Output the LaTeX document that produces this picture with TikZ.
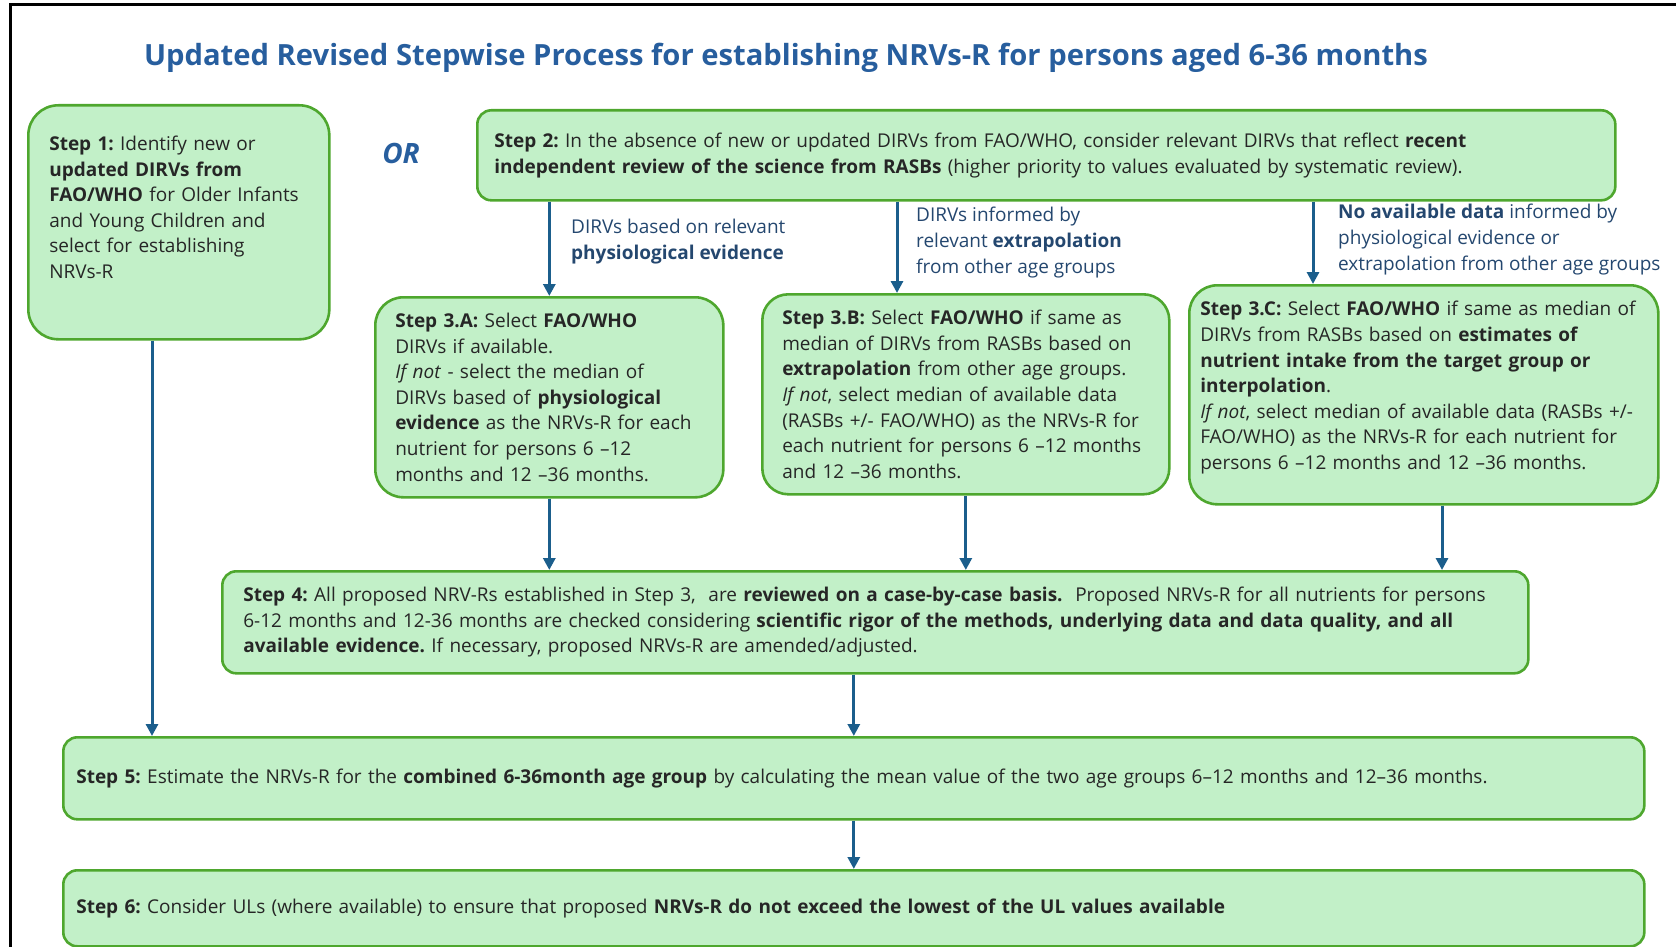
\documentclass[tikz,border=0pt]{standalone}
\usepackage{fontspec}
\setmainfont{Open Sans}
\usepackage{tikz}
\usetikzlibrary{positioning, calc, arrows.meta}
\definecolor{boxfill}{HTML}{C2F0C8}
\definecolor{boxline}{HTML}{4EA72E}
\definecolor{flowblue}{HTML}{1B5E8C}
\definecolor{titleblue}{HTML}{275E9E}
\definecolor{notetext}{HTML}{24476F}
\definecolor{bodytext}{HTML}{262626}
\tikzset{
    stepbox/.style={
        draw=boxline, fill=boxfill, line width=2.6pt, rounded corners=#1,
        anchor=north west, align=left, inner ysep=0pt,
        text=bodytext, font=\fontsize{19pt}{25.6pt}\selectfont,
    },
    stepbox/.default=14pt,
    flow/.style={draw=flowblue, line width=3pt, -{Triangle[length=12pt,width=12pt]}},
    note/.style={anchor=west, align=left, inner sep=0pt, text=notetext,
        font=\fontsize{19pt}{25.6pt}\selectfont},
}

\begin{document}
\frenchspacing
\begin{tikzpicture}[x=1pt, y=-1pt]
\useasboundingbox (0,0) rectangle (1676,947);
\draw[line width=3pt] (10,947) -- (10,5) -- (1676,5);

\node[text=titleblue, font=\bfseries\fontsize{29.2pt}{32pt}\selectfont, inner sep=0pt] (title) at (786,58)
    {Updated Revised Stepwise Process for establishing NRVs-R for persons aged 6-36 months};
\node[text=titleblue, font=\bfseries\itshape\fontsize{28pt}{30pt}\selectfont, inner sep=0pt] (or) at (401,153) {OR};

% steps 1 and 2
\node[stepbox=30pt, inner xsep=21pt, text width=259pt, minimum height=234pt] (s1) at (27,104)
    {\textbf{Step 1:} Identify new or\\ \textbf{updated DIRVs from}\\ \textbf{FAO/WHO} for Older Infants\\
     and Young Children and\\ select for establishing\\ NRVs-R\par\vspace*{30pt}};
\node[stepbox, inner xsep=17pt, text width=1104pt, minimum height=90pt] (s2) at (476,109)
    {\textbf{Step 2:} In the absence of new or updated DIRVs from FAO/WHO, consider relevant DIRVs that reflect \textbf{recent}\\
     \textbf{independent review of the science from RASBs} (higher priority to values evaluated by systematic review).};

% step 3 branches
\node[stepbox=28pt, inner xsep=20pt, text width=308pt, minimum height=200pt] (s3a) at (374,296)
    {\textbf{Step 3.A:} Select \textbf{FAO/WHO}\\ DIRVs if available.\\ \textit{If not} - select the median of\\
     DIRVs based of \textbf{physiological}\\ \textbf{evidence} as the NRVs-R for each\\ nutrient for persons 6 –12\\ months and 12 –36 months.};
\node[stepbox=26pt, inner xsep=20pt, text width=367pt, minimum height=200pt] (s3b) at (761,293)
    {\textbf{Step 3.B:} Select \textbf{FAO/WHO} if same as\\ median of DIRVs from RASBs based on\\ \textbf{extrapolation} from other age groups.\\
     \textit{If not}, select median of available data\\ (RASBs +/- FAO/WHO) as the NRVs-R for\\ each nutrient for persons 6 –12 months\\ and 12 –36 months.};
\node[stepbox=28pt, inner xsep=11pt, text width=447pt, minimum height=219pt] (s3c) at (1188,284)
    {\textbf{Step 3.C:} Select \textbf{FAO/WHO} if same as median of\\ DIRVs from RASBs based on \textbf{estimates of}\\
     \textbf{nutrient intake from the target group or}\\ \textbf{interpolation}.\\ \textit{If not}, select median of available data (RASBs +/-\\
     FAO/WHO) as the NRVs-R for each nutrient for\\ persons 6 –12 months and 12 –36 months.\par\vspace*{14pt}};

\node[note] (na) at (571,241.5) {DIRVs based on relevant\\ \textbf{physiological evidence}};
\node[note] (nb) at (916,242.5) {DIRVs informed by\\ relevant \textbf{extrapolation}\\ from other age groups};
\node[note] (nc) at (1338,239.5) {\textbf{No available data} informed by\\ physiological evidence or\\ extrapolation from other age groups};

% steps 4 to 6
\node[stepbox, inner xsep=21pt, text width=1264pt, minimum height=102pt] (s4) at (221,570)
    {\textbf{Step 4:} All proposed NRV-Rs established in Step 3,~ are \textbf{reviewed on a case-by-case basis.}~ Proposed NRVs-R for all nutrients for persons\\
     6-12 months and 12-36 months are checked considering \textbf{scientific rigor of the methods, underlying data and data quality, and all}\\
     \textbf{available evidence.} If necessary, proposed NRVs-R are amended/adjusted.};
\node[stepbox, inner xsep=13pt, text width=1555pt, minimum height=82pt] (s5) at (62,736)
    {\textbf{Step 5:} Estimate the NRVs-R for the \textbf{combined 6-36month age group} by calculating the mean value of the two age groups 6–12 months and 12–36 months.};
\node[stepbox, inner xsep=13pt, text width=1555pt, minimum height=76pt] (s6) at (62,869)
    {\textbf{Step 6:} Consider ULs (where available) to ensure that proposed \textbf{NRVs-R do not exceed the lowest of the UL values available}};

\coordinate (x1) at (152,0);
\coordinate (xb) at (897,0);
\coordinate (xc) at (1313,0);
\coordinate (xc4) at (1442,0);

\draw[flow] (s2.south -| s3a.north) -- (s3a.north);
\draw[flow] (s2.south -| xb) -- (s3b.north -| xb);
\draw[flow] (s2.south -| xc) -- (s3c.north -| xc);
\draw[flow] (s3a.south) -- (s3a.south |- s4.north);
\draw[flow] (s3b.south) -- (s3b.south |- s4.north);
\draw[flow] (s3c.south -| xc4) -- (s4.north -| xc4);
\draw[flow] (s1.south -| x1) -- (s5.north -| x1);
\draw[flow] (s4.south -| s5.north) -- (s5.north);
\draw[flow] (s5.south) -- (s6.north);
\end{tikzpicture}
\end{document}
